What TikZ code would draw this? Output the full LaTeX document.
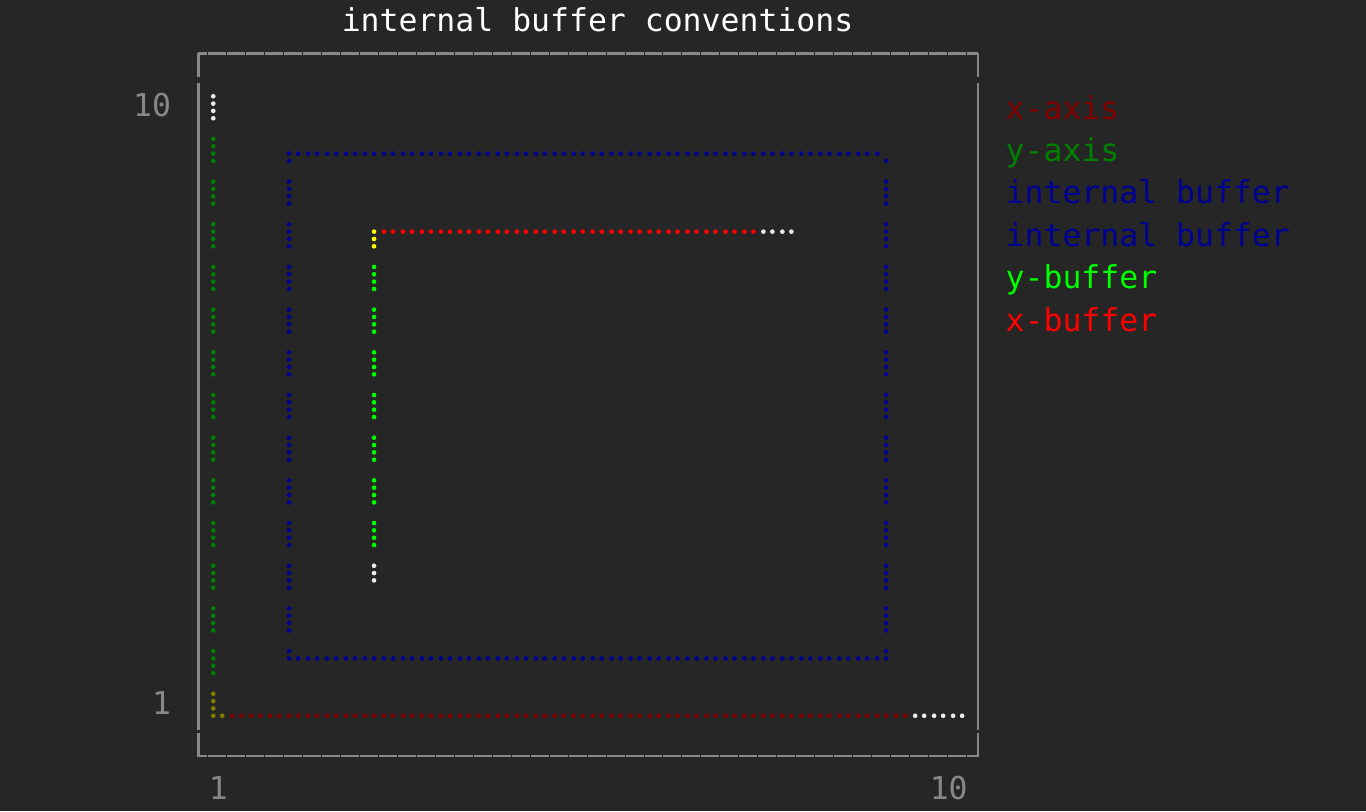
\documentclass[tikz,border=0pt]{standalone}
\usepackage{fontspec}
\usepackage{xcolor}
\usepackage{tikz}
\usetikzlibrary{positioning}
\newfontfamily\termfont{DejaVu Sans Mono}
\definecolor{bgcol}{RGB}{38,38,38}
\definecolor{framegray}{RGB}{136,136,136}
\definecolor{axisx}{RGB}{128,0,0}
\definecolor{axisy}{RGB}{0,128,0}
\definecolor{olivemix}{RGB}{128,128,0}
\definecolor{intbuf}{RGB}{0,0,145}
\definecolor{ybuf}{RGB}{0,255,0}
\definecolor{xbuf}{RGB}{255,0,0}
\definecolor{yellowmix}{RGB}{255,255,0}
\definecolor{dotwhite}{RGB}{236,236,236}
\tikzset{term/.style={font=\termfont\fontsize{23.6}{28}\selectfont,inner sep=0pt},
         legend entry/.style={term,text height=23.5pt,text depth=7.9pt},
         frame line/.style={draw=framegray,line width=1.8pt},
         }
\newcommand{\brdot}[3]{%
  \pgfmathsetmacro{\bx}{(11+floor(#1/2))*18.97+4.6+9*mod(#1,2)}%
  \pgfmathsetmacro{\by}{(2+floor(#2/4))*42.68+10.9+7.33*mod(#2,4)}%
  \fill[#3] (\bx,\by) circle[radius=1.75pt];}

\begin{document}
\begin{tikzpicture}[x=0.75pt,y=-0.75pt]

    \fill[bgcol] (0,0) rectangle (1366,811);
    \useasboundingbox (0,0) rectangle (1366,811);

    \node[term,text=white,anchor=base west] (title) at (341.5,31.3) {internal buffer conventions};

    % frame
    \draw[frame line,dash pattern=on 13.4775pt off 0.75pt,dash phase=6.24pt] (197.55,53.3) -- (978.45,53.3);
    \draw[frame line,dash pattern=on 13.4775pt off 0.75pt,dash phase=6.24pt] (197.55,756) -- (978.45,756);
    \foreach \fx in {198.3,977.7} {
        \draw[frame line] (\fx,52.55) -- (\fx,77);
        \draw[frame line] (\fx,82.7) -- (\fx,730);
        \draw[frame line] (\fx,732.7) -- (\fx,756.75);
    }

    \node[term,text=framegray,anchor=base west] (ytop) at (132.8,116.7) {10};
    \node[term,text=framegray,anchor=base west] (ybot) at (151.8,714.2) {1};
    \node[term,text=framegray,anchor=base west] (xleft) at (208.7,799.5) {1};
    \node[term,text=framegray,anchor=base west] (xright) at (929.5,799.5) {10};

    % y-axis and x-axis
    \foreach \j in {0,...,3} {\brdot{0}{\j}{dotwhite}}
    \foreach \j in {4,...,55} {\brdot{0}{\j}{axisy}}
    \foreach \j in {56,...,59} {\brdot{0}{\j}{olivemix}}
    \brdot{1}{59}{olivemix}
    \foreach \i in {2,...,73} {\brdot{\i}{59}{axisx}}
    \foreach \i in {74,...,79} {\brdot{\i}{59}{dotwhite}}

    % internal buffer
    \foreach \i in {8,...,70} {\brdot{\i}{6}{intbuf}}
    \foreach \i in {8,...,71} {\brdot{\i}{53}{intbuf}}
    \foreach \j in {7,...,52} {\brdot{8}{\j}{intbuf} \brdot{71}{\j}{intbuf}}

    % y-buffer and x-buffer
    \foreach \j in {13,14,15} {\brdot{17}{\j}{yellowmix}}
    \foreach \j in {16,...,43} {\brdot{17}{\j}{ybuf}}
    \foreach \j in {44,45,46} {\brdot{17}{\j}{dotwhite}}
    \foreach \i in {18,...,57} {\brdot{\i}{13}{xbuf}}
    \foreach \i in {58,...,61} {\brdot{\i}{13}{dotwhite}}

    \node[legend entry,text=axisx,anchor=north west] (lxaxis) at (1005.4,87.4) {x-axis};
    \node[legend entry,text=axisy] (lyaxis) [below=0pt of lxaxis.south west,anchor=north west] {y-axis};
    \node[legend entry,text=intbuf] (lbufa) [below=0pt of lyaxis.south west,anchor=north west] {internal buffer};
    \node[legend entry,text=intbuf] (lbufb) [below=0pt of lbufa.south west,anchor=north west] {internal buffer};
    \node[legend entry,text=ybuf] (lybuf) [below=0pt of lbufb.south west,anchor=north west] {y-buffer};
    \node[legend entry,text=xbuf] (lxbuf) [below=0pt of lybuf.south west,anchor=north west] {x-buffer};

\end{tikzpicture}
\end{document}
